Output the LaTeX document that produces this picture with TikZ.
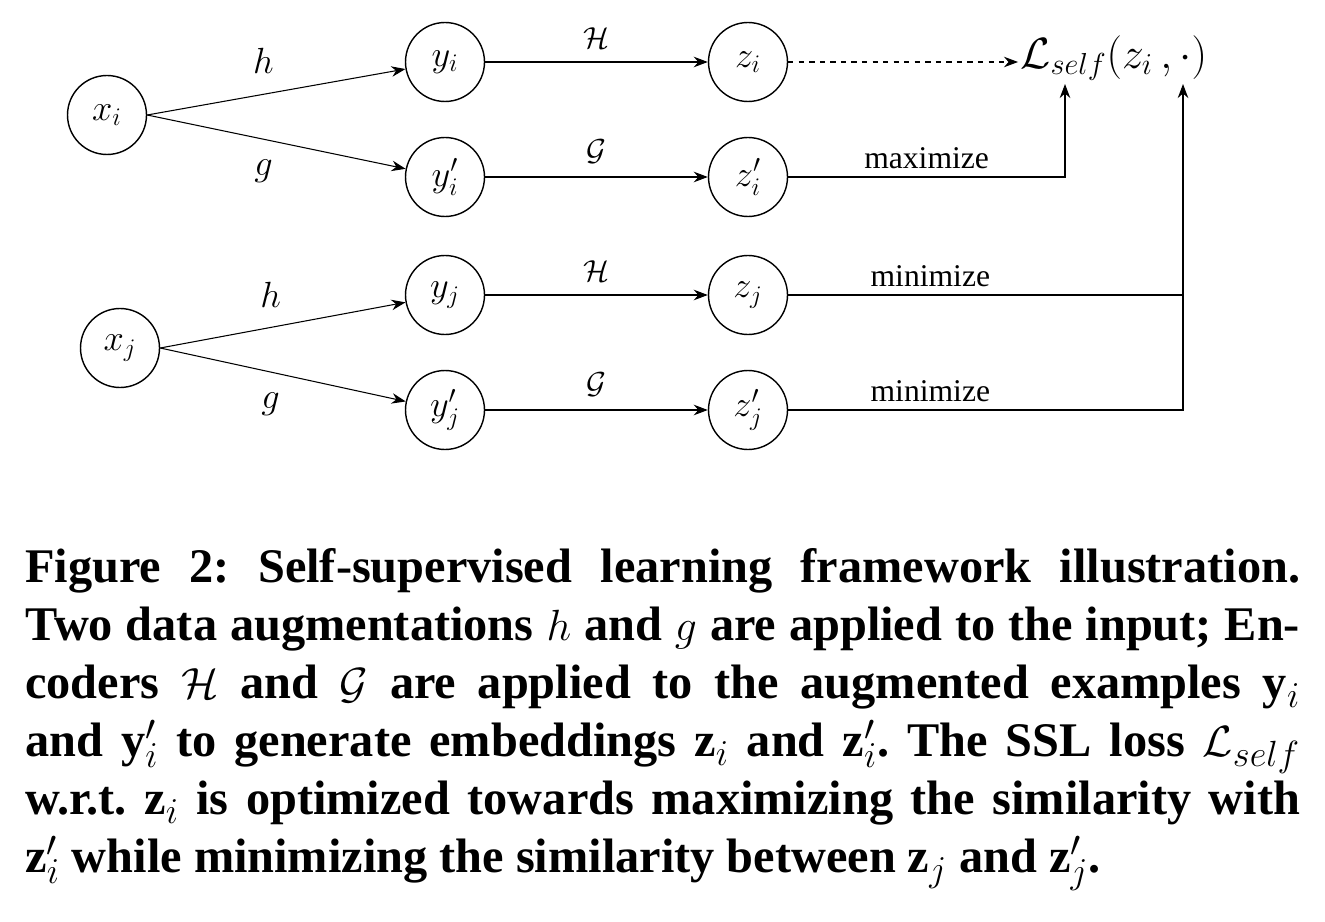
\documentclass[tikz,border=0pt]{standalone}
\usepackage{fontspec}
\setmainfont{Liberation Serif}
\usetikzlibrary{arrows.meta}
\begin{document}
\frenchspacing
\begin{tikzpicture}[x=0.02cm,y=-0.02cm,
 nd/.style={circle,draw,thick,minimum size=1.58cm,inner sep=0pt,font=\fontsize{22}{24}\selectfont},
 ar/.style={-{Stealth[length=8pt,width=6pt]},semithick},
 lb/.style={font=\fontsize{22}{24}\selectfont},
 el/.style={font=\fontsize{16}{18}\selectfont},
 wd/.style={font=\fontsize{18}{20}\selectfont}]
\useasboundingbox (0,0) rectangle (1325,922);
\node[nd] (xi) at (107,115) {$x_i$};
\node[nd] (yi) at (445,62) {$y_i$};
\node[nd] (ypi) at (445,177) {$y'_i$};
\node[nd] (zi) at (748,62) {$z_i$};
\node[nd] (zpi) at (748,177) {$z'_i$};
\node[nd] (xj) at (120,348) {$x_j$};
\node[nd] (yj) at (445,295) {$y_j$};
\node[nd] (ypj) at (445,410) {$y'_j$};
\node[nd] (zj) at (748,295) {$z_j$};
\node[nd] (zpj) at (748,410) {$z'_j$};
\node[font=\fontsize{26}{28}\selectfont,inner sep=0pt,anchor=west] (L) at (1020,58) {$\mathcal{L}_{self}(z_i\,,\cdot)$};
\coordinate (d) at (1018,62);
\coordinate (a1) at (1065,84);
\coordinate (a2) at (1183,84);
\coordinate (c1) at (1065,177);
\coordinate (c2) at (1183,410);
\coordinate (c3) at (1183,295);
\draw[ar] (xi.east) -- (yi) node[lb,pos=0.45,above=8pt] {$h$};
\draw[ar] (xi.east) -- (ypi) node[lb,pos=0.45,below=8pt] {$g$};
\draw[ar] (xj.east) -- (yj) node[lb,pos=0.45,above=8pt] {$h$};
\draw[ar] (xj.east) -- (ypj) node[lb,pos=0.45,below=8pt] {$g$};
\draw[ar] (yi) -- (zi) node[el,midway,above=4pt] {$\mathcal{H}$};
\draw[ar] (ypi) -- (zpi) node[el,midway,above=4pt] {$\mathcal{G}$};
\draw[ar] (yj) -- (zj) node[el,midway,above=4pt] {$\mathcal{H}$};
\draw[ar] (ypj) -- (zpj) node[el,midway,above=4pt] {$\mathcal{G}$};
\draw[ar,dashed] (zi) -- (d);
\draw[ar] (zpi) -- (c1) node[wd,pos=0.5,above=1pt] {maximize} -- (a1);
\draw[ar] (zpj) -- (c2) node[wd,pos=0.36,above=1pt] {minimize} -- (a2);
\draw[semithick] (zj) -- (c3) node[wd,pos=0.36,above=1pt] {minimize};
\node[anchor=north west,inner sep=0pt,text width=25.5cm,align=justify,
 font=\bfseries\fontsize{27.5}{33}\selectfont] (cap) at (25,548) {%
Figure 2: Self-supervised learning framework illustration.\linebreak
Two data augmentations $h$ and $g$ are applied to the input; En-\linebreak
coders $\mathcal{H}$ and $\mathcal{G}$ are applied to the augmented examples $\mathbf{y}_i$\linebreak
and $\mathbf{y}'_i$ to generate embeddings $\mathbf{z}_i$ and $\mathbf{z}'_i$. The SSL loss $\mathcal{L}_{self}$\linebreak
w.r.t. $\mathbf{z}_i$ is optimized towards maximizing the similarity with\linebreak
$\mathbf{z}'_i$ while minimizing the similarity between $\mathbf{z}_j$ and $\mathbf{z}'_j$.};
\end{tikzpicture}
\end{document}
